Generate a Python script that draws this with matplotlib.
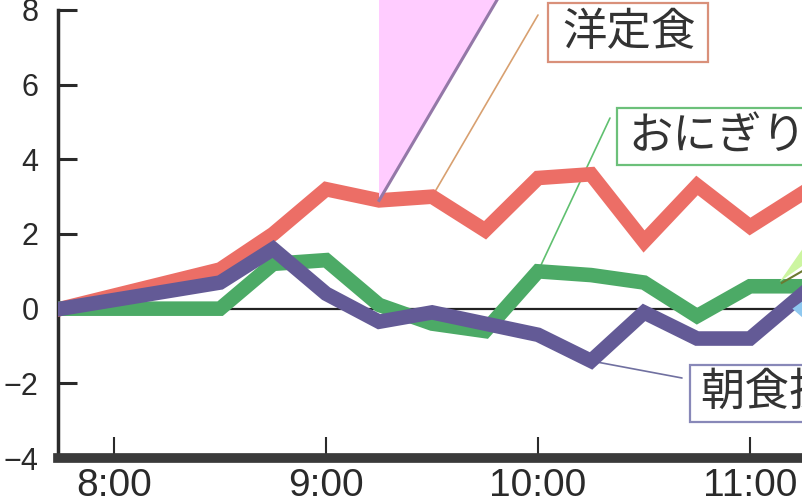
import matplotlib
matplotlib.use('Agg')
import matplotlib.pyplot as plt
from matplotlib.patches import Polygon, Rectangle

# time of day (hours) and change in value for each breakfast group
hours = [7.75, 8.5, 8.75, 9.0, 9.25, 9.5, 9.75, 10.0, 10.25, 10.5, 10.75, 11.0, 11.25]
western = [0, 1.05, 2.0, 3.2, 2.9, 3.0, 2.1, 3.5, 3.6, 1.8, 3.3, 2.2, 3.1]
onigiri = [0, 0, 1.2, 1.3, 0.1, -0.4, -0.6, 1.0, 0.9, 0.7, -0.2, 0.6, 0.6]
no_breakfast = [0, 0.7, 1.6, 0.4, -0.35, -0.1, -0.4, -0.7, -1.4, -0.1, -0.8, -0.8, 0.4]

xticks = [8, 9, 10, 11]
xticklabels = ['8:00', '9:00', '10:00', '11:00']
yticks = [-4, -2, 0, 2, 4, 6, 8]

names = ['洋定食', 'おにぎり', '朝食抜き']

W, H = 803, 503
plt.rcParams['font.family'] = ['Liberation Sans Narrow', 'Liberation Sans', 'DejaVu Sans']

fig = plt.figure(figsize=(W / 100, H / 100), dpi=100)
fig.patch.set_facecolor('white')


def fx(x):
    return x / W


def fy(y):
    return 1 - y / H


ax = fig.add_axes([fx(58), fy(458), fx(745), 448 / H])
ax.set_xlim(7.735, 11.25)
ax.set_ylim(-4, 8)

ax.axhline(0, color='#222222', lw=1.6, zorder=1)

red = '#ec6e66'
green = '#4caa66'
purple = '#635a96'

ax.plot(hours, western, color=red, lw=10.5, solid_joinstyle='miter', zorder=3)
ax.plot(hours, onigiri, color=green, lw=10.5, solid_joinstyle='miter', zorder=4)
ax.plot(hours, no_breakfast, color=purple, lw=10.5, solid_joinstyle='miter', zorder=5)

# pink callout wedge coming down to the red line
tri = Polygon([(hours[4], western[4]), (hours[4], 8.4), (9.82, 8.4)],
              closed=True, facecolor='#ffccff', edgecolor='none', clip_on=False, zorder=6)
ax.add_patch(tri)
ax.plot([hours[4], 9.82], [western[4], 8.4], color='#9478a8', lw=2.2, clip_on=False, zorder=7)

# bits of other callouts at the right edge
ax.add_patch(Polygon([(11.14, 0.72), (11.26, 1.7), (11.26, 1.2)], closed=True,
                     facecolor='#ccf5a0', edgecolor='none', zorder=6))
ax.plot([11.15, 11.26], [0.69, 1.05], color='#6b7a30', lw=1.5, zorder=7)
ax.add_patch(Polygon([(11.2, 0.0), (11.26, 0.25), (11.26, -0.3)], closed=True,
                     facecolor='#8ec8f0', edgecolor='none', zorder=6))

for s in ['top', 'right']:
    ax.spines[s].set_visible(False)
ax.spines['left'].set_linewidth(2.5)
ax.spines['left'].set_color('#2a2a2a')
ax.spines['bottom'].set_linewidth(7)
ax.spines['bottom'].set_color('#3a3a3a')
ax.spines['bottom'].set_capstyle('projecting')

ax.set_xticks(xticks)
ax.set_xticklabels(xticklabels)
ax.set_yticks(yticks)
ax.set_yticklabels([str(v).replace('-', '\u2212') for v in yticks],
                   family=['Liberation Sans', 'DejaVu Sans'])
ax.tick_params(axis='y', direction='in', length=14, width=2.2, pad=14,
               labelsize=22, colors='#2a2a2a')
ax.tick_params(axis='x', direction='in', length=15, width=1.5, pad=7,
               labelsize=28, colors='#2a2a2a')

# leader lines from the series to the name boxes
leaders = [
    ((hours[5], western[5]), (538, 15), '#d8a070'),
    ((hours[7], onigiri[7]), (610, 118), '#60c070'),
    ((hours[8], no_breakfast[8]), (682, 378), '#7070a0'),
]
for xy, (px, py), c in leaders:
    ax.annotate('', xy=xy, xytext=(fx(px), fy(py)), textcoords='figure fraction',
                arrowprops=dict(arrowstyle='-', color=c, lw=1.2, shrinkA=0, shrinkB=0),
                zorder=2)

# name boxes
boxes = [
    (names[0], 548, 3, 160, 59, '#d9907a', 562, 32),
    (names[1], 617, 108, 200, 57, '#6cc07a', 628, 137),
    (names[2], 690, 365, 200, 57, '#8888b8', 700, 392),
]
cjk = ['Noto Sans CJK JP', 'DejaVu Sans']
for label, bx, by, bw, bh, ec, tx, ty in boxes:
    fig.add_artist(Rectangle((fx(bx), fy(by + bh)), bw / W, bh / H,
                             facecolor='white', edgecolor=ec, lw=1.6))
    fig.text(fx(tx), fy(ty), label, family=cjk, fontsize=32, color='#333333',
             ha='left', va='center')

fig.savefig('out.png', dpi=100)
